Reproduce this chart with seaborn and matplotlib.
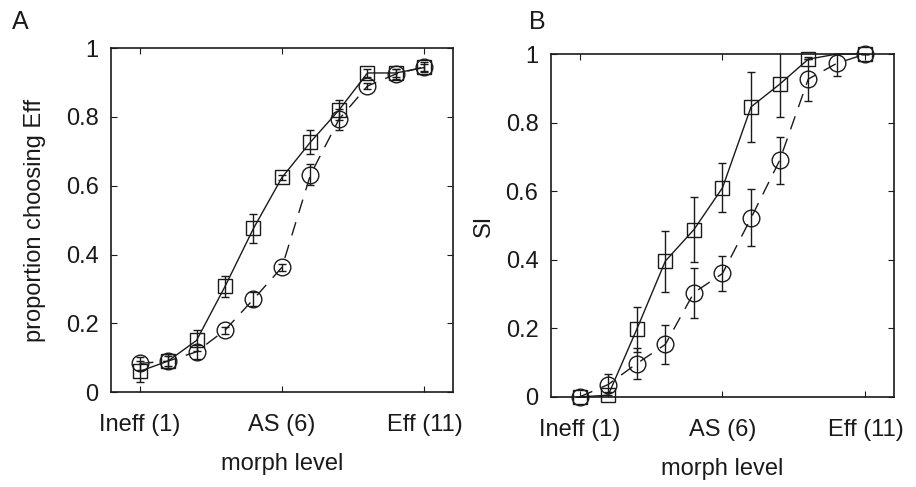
import numpy as np
import pandas as pd
import matplotlib
matplotlib.use("Agg")
import matplotlib.pyplot as plt
import seaborn as sns

# morph levels and tick labels
levels = list(range(1, 12))
tick_pos = [1, 6, 11]
tick_labels = ["Ineff (1)", "AS (6)", "Eff (11)"]

# Panel A: proportion choosing Eff
a_square = [0.06, 0.09, 0.15, 0.307, 0.476, 0.624, 0.727, 0.82, 0.928, 0.928, 0.944]
a_square_err = [0.03, 0.02, 0.03, 0.03, 0.043, 0.008, 0.035, 0.028, 0.012, 0.012, 0.01]
a_circle = [0.083, 0.09, 0.117, 0.18, 0.27, 0.363, 0.632, 0.793, 0.89, 0.925, 0.946]
a_circle_err = [0.02, 0.015, 0.02, 0.01, 0.02, 0.01, 0.03, 0.03, 0.01, 0.015, 0.015]

# Panel B: SI
b_square = [0.0, 0.005, 0.197, 0.396, 0.488, 0.61, 0.846, 0.912, 0.985, 1.0, 1.0]
b_square_err = [0.0, 0.01, 0.066, 0.089, 0.095, 0.072, 0.102, 0.095, 0.0, 0.0, 0.0]
b_circle = [0.0, 0.036, 0.097, 0.153, 0.304, 0.36, 0.522, 0.69, 0.927, 0.973, 1.0]
b_circle_err = [0.0, 0.03, 0.045, 0.058, 0.073, 0.052, 0.083, 0.068, 0.065, 0.036, 0.0]

sns.set_theme(style="white")
plt.rcParams["font.family"] = ["Liberation Sans", "DejaVu Sans"]

ink = "#1a1a1a"
fig = plt.figure(figsize=(9.16, 4.87), dpi=100)
axA = fig.add_axes([0.1212, 0.195, 0.3733, 0.706])
axB = fig.add_axes([0.6015, 0.185, 0.3745, 0.704])


def draw(ax, sq, sq_err, ci, ci_err, sq_markevery=None):
    df_sq = pd.DataFrame({"level": levels, "value": sq})
    df_ci = pd.DataFrame({"level": levels, "value": ci})
    ax.errorbar(levels, ci, yerr=ci_err, fmt="none", ecolor=ink,
                elinewidth=1.0, capsize=3, capthick=1.0, zorder=2)
    ax.errorbar(levels, sq, yerr=sq_err, fmt="none", ecolor=ink,
                elinewidth=1.0, capsize=3, capthick=1.0, zorder=2)
    n_before = len(ax.lines)
    sns.lineplot(data=df_ci, x="level", y="value", ax=ax, color=ink,
                 linewidth=1.0, marker="o", markersize=12,
                 markerfacecolor="none", markeredgecolor=ink,
                 markeredgewidth=1.0, zorder=3)
    ax.lines[-1].set_linestyle((0, (10, 7)))
    sns.lineplot(data=df_sq, x="level", y="value", ax=ax, color=ink,
                 linewidth=1.0, marker="s", markersize=10.5,
                 markerfacecolor="none", markeredgecolor=ink,
                 markeredgewidth=1.0, zorder=3)
    if sq_markevery is not None:
        ax.lines[-1].set_markevery(sq_markevery)
    for ln in ax.lines[n_before:]:
        ln.set_clip_on(False)

    ax.set_xlim(0, 12)
    ax.set_ylim(0, 1)
    ax.set_xticks(tick_pos)
    ax.set_xticklabels(tick_labels)
    ax.set_yticks([0, 0.2, 0.4, 0.6, 0.8, 1.0])
    ax.set_yticklabels(["0", "0.2", "0.4", "0.6", "0.8", "1"])
    ax.tick_params(direction="in", length=4, width=0.8, color=ink,
                   labelsize=17, labelcolor=ink, top=True, right=True,
                   bottom=True, left=True)
    ax.tick_params(axis="y", pad=9)
    ax.tick_params(axis="x", pad=16)
    for sp in ax.spines.values():
        sp.set_visible(True)
        sp.set_color(ink)
        sp.set_linewidth(1.2)
    ax.set_xlabel("morph level", fontsize=17, color=ink, labelpad=12)
    ax.grid(False)


draw(axA, a_square, a_square_err, a_circle, a_circle_err)
draw(axB, b_square, b_square_err, b_circle, b_circle_err,
     sq_markevery=[0, 1, 2, 3, 4, 5, 6, 7, 8, 10])

axA.set_ylabel("proportion choosing Eff", fontsize=17, color=ink, labelpad=14)
axB.set_ylabel("SI", fontsize=17, color=ink, labelpad=8)

fig.text(0.013, 0.955, "A", fontsize=18, color=ink, va="center")
fig.text(0.578, 0.955, "B", fontsize=18, color=ink, va="center")

fig.savefig("out.png", dpi=100, facecolor="white")
